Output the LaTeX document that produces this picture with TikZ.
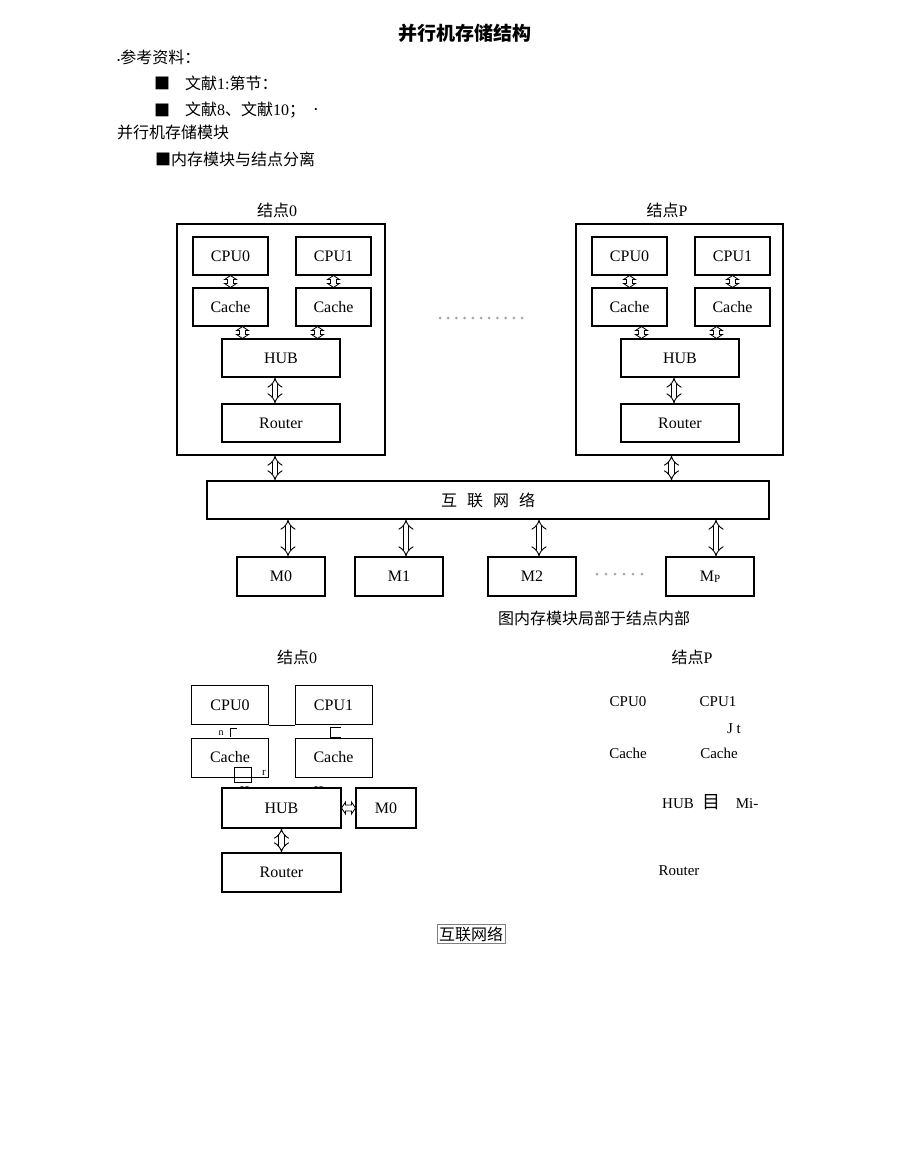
\documentclass[tikz,border=0pt]{standalone}
\usepackage{fontspec}
\setmainfont{Liberation Serif}
\newfontfamily\cjk{Noto Sans CJK SC}
\usepackage{tikz}
\usetikzlibrary{arrows.meta,calc}

\begin{document}
\begin{tikzpicture}[x=1pt, y=-1pt,
  every node/.style={inner sep=0pt},
  caja/.style={draw, line width=1.1pt, minimum width=75pt, minimum height=38pt, font=\fontsize{16}{18}\selectfont},
  ancha/.style={caja, minimum width=118pt},
  memoria/.style={caja, minimum width=88pt, minimum height=39pt},
  fina/.style={draw, line width=0.6pt, minimum width=77pt, minimum height=39pt, font=\fontsize{16}{18}\selectfont},
  marco/.style={draw, line width=1.1pt},
  flecha/.style={line width=0.9pt, double distance=4.5pt, {Implies}-{Implies}},
  corta/.style={line width=0.8pt, fill=white, to path={
    -- ($(\tikztostart)!4pt!(\tikztotarget)!6pt!90:(\tikztotarget)$)
    -- ($(\tikztostart)!4pt!(\tikztotarget)!3pt!90:(\tikztotarget)$)
    -- ($(\tikztotarget)!4pt!(\tikztostart)!3pt!-90:(\tikztostart)$)
    -- ($(\tikztotarget)!4pt!(\tikztostart)!6pt!-90:(\tikztostart)$)
    -- (\tikztotarget)
    -- ($(\tikztotarget)!4pt!(\tikztostart)!6pt!90:(\tikztostart)$)
    -- ($(\tikztotarget)!4pt!(\tikztostart)!3pt!90:(\tikztostart)$)
    -- ($(\tikztostart)!4pt!(\tikztotarget)!3pt!-90:(\tikztotarget)$)
    -- ($(\tikztostart)!4pt!(\tikztotarget)!6pt!-90:(\tikztotarget)$)
    -- cycle}},
  chino/.style={font=\cjk\fontsize{16}{18}\selectfont},
  suelto/.style={font=\fontsize{15}{17}\selectfont},
]
\useasboundingbox (0,0) rectangle (920,1154);

% Textos
\node[font=\cjk\bfseries\fontsize{19}{21}\selectfont] (titulo) at (465,33) {并行机存储结构};
\node[chino, anchor=west] (ref) at (117,57) {{\rmfamily\fontsize{9}{9}\selectfont\textbullet}参考资料：};
\node[chino] (sq1) at (162,83) {■};
\node[chino, anchor=west] (lib1) at (185,83) {文献{\rmfamily 1:}第节：};
\node[chino] (sq2) at (162,110) {■};
\node[chino, anchor=west] (lib2) at (185,110) {文献{\rmfamily 8}、文献{\rmfamily 10}；};
\node[font=\fontsize{9}{9}\selectfont] (pto) at (316,110) {\textbullet};
\node[chino, anchor=west] (modulo) at (117,132) {并行机存储模块};
\node[chino, anchor=west] (sep) at (155,159) {■内存模块与结点分离};

% Nodo 0
\node[chino] (t0) at (277,210) {结点{\rmfamily 0}};
\node[marco, minimum width=208pt, minimum height=231pt] (n0) at (281,339.5) {};
\node[caja] (cpu00) at (230.5,256) {CPU0};
\node[caja] (cpu01) at (333.5,256) {CPU1};
\node[caja] (cache00) at (230.5,307) {Cache};
\node[caja] (cache01) at (333.5,307) {Cache};
\node[ancha] (hub0) at (281,358) {HUB};
\node[ancha] (router0) at (281,423) {Router};

% Nodo P
\node[chino] (tp) at (667,210) {结点{\rmfamily P}};
\node[marco, minimum width=207pt, minimum height=231pt] (np) at (679.5,339.5) {};
\node[caja] (cpup0) at (629.5,256) {CPU0};
\node[caja] (cpup1) at (732.5,256) {CPU1};
\node[caja] (cachep0) at (629.5,307) {Cache};
\node[caja] (cachep1) at (732.5,307) {Cache};
\node[ancha] (hubp) at (680,358) {HUB};
\node[ancha] (routerp) at (680,423) {Router};

\foreach \i in {0,...,10}
  \fill[gray!70] (440+\i*8.2,318) circle (1.5pt);

% Red y memorias
\node[marco, minimum width=562pt, minimum height=38pt, chino] (red) at (488,500)
  {互\hspace{10pt}联\hspace{10pt}网\hspace{10pt}络};
\node[memoria] (m0) at (281,576.5) {M0};
\node[memoria] (m1) at (399,576.5) {M1};
\node[memoria] (m2) at (532,576.5) {M2};
\node[memoria] (mp) at (710,576.5) {M\raisebox{-1pt}{\fontsize{11}{11}\selectfont P}};
\foreach \i in {0,...,5}
  \fill[gray!70] (597+\i*9,574) circle (1.5pt);
\node[chino] (pie) at (594,618) {图内存模块局部于结点内部};

% Aristas
\draw[corta] (cpu00.south) to (cache00.north);
\draw[corta] (cpu01.south) to (cache01.north);
\draw[corta] ([xshift=12pt]cache00.south) to ([xshift=12pt]cache00.south |- hub0.north);
\draw[corta] ([xshift=-16pt]cache01.south) to ([xshift=-16pt]cache01.south |- hub0.north);
\draw[flecha] ([xshift=-6pt]hub0.south) -- ([xshift=-6pt]router0.north);
\draw[corta] (cpup0.south) to (cachep0.north);
\draw[corta] (cpup1.south) to (cachep1.north);
\draw[corta] ([xshift=12pt]cachep0.south) to ([xshift=12pt]cachep0.south |- hubp.north);
\draw[corta] ([xshift=-16pt]cachep1.south) to ([xshift=-16pt]cachep1.south |- hubp.north);
\draw[flecha] ([xshift=-6pt]hubp.south) -- ([xshift=-6pt]routerp.north);
\draw[flecha] ([xshift=-6pt]n0.south) -- ([xshift=-6pt]n0.south |- red.north);
\draw[flecha] ([xshift=-8pt]np.south) -- ([xshift=-8pt]np.south |- red.north);
\foreach \m/\d in {m0/7, m1/7, m2/7, mp/6}
  \draw[flecha] ([xshift=\d pt]\m.north) -- ([xshift=\d pt]\m.north |- red.south);

% Nodo 0 con memoria
\node[chino] (t0b) at (297,657) {结点{\rmfamily 0}};
\node[fina] (cpu0b) at (230,705) {CPU0};
\node[fina] (cpu1b) at (333.5,705) {CPU1};
\node[fina] (cache0b) at (230,757.5) {Cache};
\node[fina] (cache1b) at (333.5,757.5) {Cache};
\node[caja, minimum width=119pt, minimum height=40pt] (hubb) at (281.5,808) {HUB};
\node[caja, minimum width=60pt, minimum height=40pt] (m0b) at (386,808) {M0};
\node[caja, minimum width=119pt, minimum height=39pt] (routerb) at (281.5,872.5) {Router};
\draw[line width=0.6pt] (cpu0b.south east) -- (cpu1b.south west);
\node[font=\fontsize{10}{10}\selectfont] (rn) at (221,733) {n};
\draw[line width=0.6pt] (230,737) -- (230,728) -- (237,728);
\node[draw, line width=0.6pt, minimum width=17pt, minimum height=15pt] (cuad) at (242.5,774.5) {};
\node[font=\fontsize{11}{11}\selectfont] (rr) at (264,773) {r};
\draw[line width=0.8pt] (341,727) -- (330,727) -- (330,737) -- (341,737);
\fill (242,787.5) ellipse (2.5pt and 1.2pt) (247,787.5) ellipse (2.5pt and 1.2pt);
\fill (316,787.5) ellipse (2.5pt and 1.2pt) (321,787.5) ellipse (2.5pt and 1.2pt);
\draw[corta] (hubb.east) to (m0b.west);
\draw[flecha] (hubb.south) -- (routerb.north);

% Nodo P sin cajas
\node[chino] (tpb) at (692,657) {结点{\rmfamily P}};
\node[suelto] (cpu0s) at (628,702) {CPU0};
\node[suelto] (cpu1s) at (718,702) {CPU1};
\node[suelto] (jt) at (734,729) {J t};
\node[suelto] (cache0s) at (628,753) {Cache};
\node[suelto] (cache1s) at (719,753) {Cache};
\node[suelto] (hubs) at (678,804) {HUB};
\node[font=\cjk\fontsize{18}{20}\selectfont] (ojo) at (711,802) {目};
\node[suelto] (mis) at (747,804) {Mi-};
\node[suelto] (routers) at (679,871) {Router};

\node[draw=gray, line width=0.6pt, inner sep=2pt, chino] (redb) at (471,934) {互联网络};
\end{tikzpicture}
\end{document}
